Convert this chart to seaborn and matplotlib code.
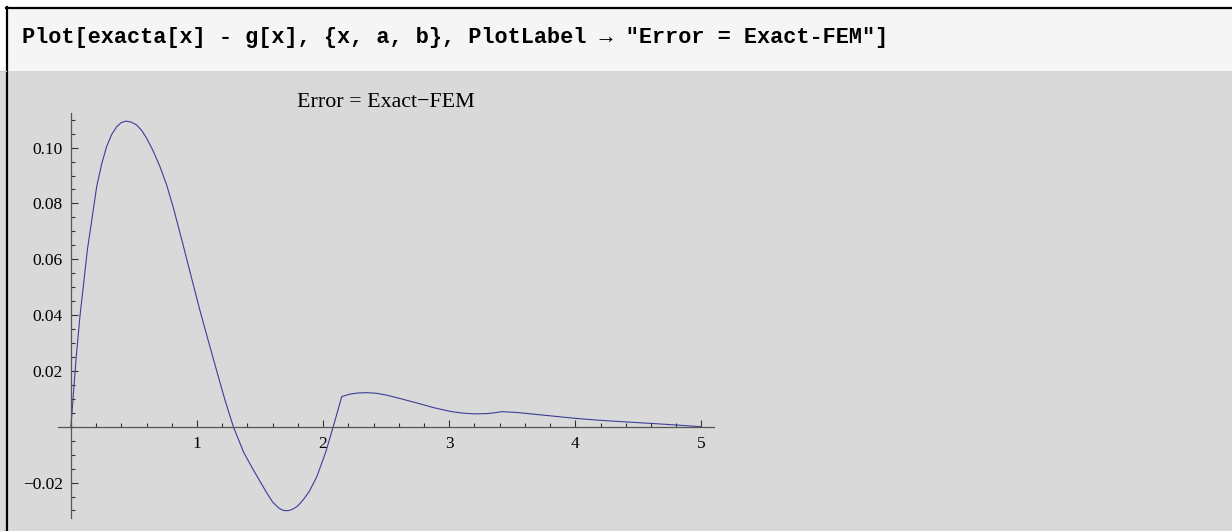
import matplotlib
matplotlib.use("Agg")
import matplotlib.pyplot as plt
from matplotlib.ticker import FixedLocator, FixedFormatter, MultipleLocator
from matplotlib.patches import Rectangle
from matplotlib.lines import Line2D
import seaborn as sns
import pandas as pd

# ---- data ----
x_vals = [0, 0.04, 0.071, 0.10, 0.13, 0.17, 0.204, 0.243, 0.283, 0.323, 0.363, 0.40,
          0.437, 0.48, 0.521, 0.56, 0.60, 0.65, 0.706, 0.76, 0.812, 0.88, 0.944, 1.024,
          1.09, 1.156, 1.22, 1.288, 1.37, 1.447, 1.553, 1.60, 1.65, 1.68, 1.706, 1.73,
          1.76, 1.79, 1.817, 1.85, 1.89,
          1.95, 2.02, 2.08, 2.148, 2.214, 2.28, 2.347, 2.42, 2.506, 2.61, 2.744, 2.88,
          3.008, 3.10, 3.193, 3.299, 3.36, 3.418, 3.537, 3.67, 3.802, 4.0, 4.198, 4.41,
          4.595, 4.807, 5.0]
err_vals = [0, 0.024, 0.0394, 0.051, 0.0633, 0.0755, 0.086, 0.0940, 0.1004, 0.1047, 0.1075, 0.1090,
            0.1095, 0.1091, 0.1081, 0.1062, 0.1034, 0.0990, 0.0932, 0.0865, 0.0785, 0.0668, 0.0555, 0.0415,
            0.0307, 0.0200, 0.0098, 0.0, -0.0092, -0.0155, -0.0237, -0.0270, -0.0292, -0.0299, -0.0301, -0.0300,
            -0.0295, -0.0287, -0.0275, -0.0257, -0.0232,
            -0.0179, -0.0092, 0.0, 0.0108, 0.0117, 0.0121, 0.0122, 0.0120, 0.0113, 0.0101, 0.0085, 0.0068,
            0.0055, 0.0049, 0.0046, 0.0047, 0.0050, 0.0054, 0.0051, 0.0045, 0.0039, 0.0030, 0.0023, 0.0017,
            0.0012, 0.0006, 0.0]
x_ticks = [1, 2, 3, 4, 5]
x_tick_labels = ["1", "2", "3", "4", "5"]
y_ticks = [-0.02, 0.02, 0.04, 0.06, 0.08, 0.10]
y_tick_labels = ["\u22120.02", "0.02", "0.04", "0.06", "0.08", "0.10"]
plot_label = "Error = Exact\u2212FEM"
input_text = 'Plot[exacta[x] - g[x], {x, a, b}, PlotLabel \u2192 "Error = Exact-FEM"]'

df = pd.DataFrame({"x": x_vals, "err": err_vals})

W, H = 1232, 531
fig = plt.figure(figsize=(W / 100, H / 100), dpi=100, facecolor="white")

def fx(px):
    return px / W

def fy(py):
    return 1 - py / H

# notebook decorations (behind the axes)
fig.patches.append(Rectangle((fx(7), fy(71)), 1, fy(8) - fy(71), transform=fig.transFigure,
                             facecolor="#f5f5f5", edgecolor="none", zorder=-2))
fig.patches.append(Rectangle((0, 0), 1, fy(71), transform=fig.transFigure,
                             facecolor="#d9d9d9", edgecolor="none", zorder=-2))
fig.lines.append(Line2D([fx(6), 1], [fy(7.5), fy(7.5)], transform=fig.transFigure,
                        color="black", linewidth=1.6, zorder=-1))
fig.lines.append(Line2D([fx(6.6), fx(6.6)], [fy(7), 0], transform=fig.transFigure,
                        color="black", linewidth=1.6, zorder=-1))
fig.lines.append(Line2D([0, fx(6)], [fy(71), fy(71)], transform=fig.transFigure,
                        color="#c8c8c8", linewidth=0.8, zorder=-1))

fig.text(fx(22), fy(43), input_text, family=["Liberation Mono", "DejaVu Sans Mono"],
         fontweight="bold", fontsize=15.75, va="baseline", ha="left", color="black")

# plot axes: pixel box x 57.7..714, y 113..518
ax = fig.add_axes([fx(57.7), fy(518), fx(714) - fx(57.7), fy(113) - fy(518)])
ax.set_facecolor("none")
ax.set_zorder(1)

sns.lineplot(data=df, x="x", y="err", ax=ax, color=(0.24, 0.24, 0.6), linewidth=0.8,
             estimator=None, sort=False)

ax.set_xlim(-0.105, 5.1)
ax.set_ylim(-0.0327, 0.1124)
ax.set_xlabel("")
ax.set_ylabel("")

for s in ("top", "right"):
    ax.spines[s].set_visible(False)
ax.spines["left"].set_position(("data", 0))
ax.spines["bottom"].set_position(("data", 0))
for s in ("left", "bottom"):
    ax.spines[s].set_color("#555555")
    ax.spines[s].set_linewidth(0.9)

ax.xaxis.set_major_locator(FixedLocator(x_ticks))
ax.xaxis.set_major_formatter(FixedFormatter(x_tick_labels))
ax.yaxis.set_major_locator(FixedLocator(y_ticks))
ax.yaxis.set_major_formatter(FixedFormatter(y_tick_labels))
ax.xaxis.set_minor_locator(MultipleLocator(0.2))
ax.yaxis.set_minor_locator(MultipleLocator(0.005))

ax.tick_params(which="both", direction="in", color="#333333", width=0.8,
               labelsize=12.5, labelcolor="black")
ax.tick_params(which="major", length=5.2)
ax.tick_params(which="minor", length=3.2)
ax.tick_params(axis="y", which="major", pad=5.8)
ax.tick_params(axis="x", which="major", pad=6.5)
for lab in ax.get_xticklabels() + ax.get_yticklabels():
    lab.set_family("Liberation Serif")

ax.set_title(plot_label, family="Liberation Serif", fontsize=15.8, pad=4, color="black")

fig.savefig("out.png", dpi=100, facecolor="white")
